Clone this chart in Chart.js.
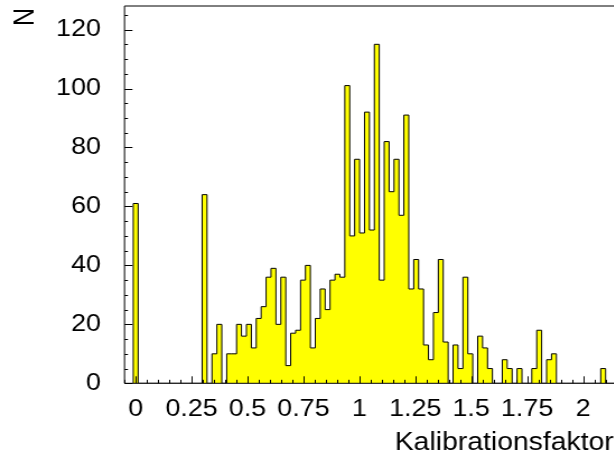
<!DOCTYPE html>
<html><head><meta charset="utf-8">
<script src="https://cdn.jsdelivr.net/npm/chart.js@4/dist/chart.umd.min.js"></script>
<style>
html,body{margin:0;padding:0;overflow:hidden;background:#fff;width:614px;height:455px}
#wrap{position:absolute;left:0;top:0;transform:scaleX(1.12);transform-origin:0 0;}
canvas{display:block}
</style></head><body>
<div id="wrap"><canvas id="c" width="620" height="455"></canvas></div>
<script>
// histogram bin contents (bin k centred at k * binWidth)
const counts = [61, 0,0,0,0,0,0,0,0,0,0,0,0,0, 64, 0,
  10,20,0,10,10,20,16,20,12,22,26,36,39,20,36,
  6,17,18,35,40,12,22,32,25,35,37,36,
  101,50,76,51,92,52,115,35,82,65,76,57,91,
  32,42,32,13,8,24,42,14,
  0,13,5,36,10,0,16,12,5,0,0,8,5,0,5,0,0,5,18,0,8,10,
  0,0,0,0,0,0,0,0,0, 5, 0,0,0,0];
const binWidth = 0.022;
const binLow = -0.011;
const xTickValues = [0, 0.25, 0.5, 0.75, 1, 1.25, 1.5, 1.75, 2];
const yTickValues = [0, 20, 40, 60, 80, 100, 120];
const xTitle = 'Kalibrationsfaktor';
const yTitle = 'N';

const FONT = '"Liberation Sans", Arial, Helvetica, sans-serif';

const pts = [{x: binLow, y: 0}];
counts.forEach((c, i) => pts.push({x: binLow + i * binWidth, y: c}));
pts.push({x: binLow + counts.length * binWidth, y: 0});

const rootStyle = {
  id: 'rootStyle',
  afterDraw(chart) {
    const ctx = chart.ctx;
    const {left, right, top, bottom} = chart.chartArea;
    const xs = chart.scales.x, ys = chart.scales.y;
    ctx.save();
    ctx.strokeStyle = '#000';
    ctx.lineWidth = 1;
    ctx.beginPath();
    ctx.moveTo(left, top); ctx.lineTo(right, top); ctx.lineTo(right, bottom);
    ctx.lineTo(left, bottom); ctx.closePath();
    ctx.stroke();
    ctx.beginPath();
    for (let i = -1; i <= 44; i++) {
      const v = i * 0.05;
      if (v < xs.min - 1e-9 || v > xs.max + 1e-9) continue;
      const px = Math.round(xs.getPixelForValue(v)) + 0.5;
      const len = (i % 5 === 0) ? 7 : 3.5;
      ctx.moveTo(px, bottom); ctx.lineTo(px, bottom - len);
    }
    for (let j = 0; j <= 25; j++) {
      const v = j * 5;
      if (v > ys.max) continue;
      const py = Math.round(ys.getPixelForValue(v)) + 0.5;
      const len = (j % 4 === 0) ? 7.1 : 3.1;
      ctx.moveTo(left, py); ctx.lineTo(left + len, py);
    }
    ctx.stroke();
    ctx.fillStyle = '#000';
    ctx.font = '25.3px ' + FONT;
    ctx.textAlign = 'left';
    ctx.textBaseline = 'alphabetic';
    ctx.fillText(xTitle, 352.5, 450);
    ctx.font = '25px ' + FONT;
    ctx.translate(29.5, 17);
    ctx.rotate(-Math.PI / 2);
    ctx.textAlign = 'center';
    ctx.fillText(yTitle, 0, 0);
    ctx.restore();
  }
};

new Chart(document.getElementById('c'), {
  type: 'line',
  data: {
    datasets: [{
      data: pts,
      stepped: 'before',
      borderColor: '#000',
      borderWidth: 1,
      backgroundColor: '#ffff00',
      fill: 'origin',
      pointRadius: 0,
      tension: 0
    }]
  },
  options: {
    responsive: false,
    animation: false,
    devicePixelRatio: 1,
    events: [],
    layout: {padding: {left: 0, top: 6, right: 59.5, bottom: 0}},
    plugins: {legend: {display: false}, tooltip: {enabled: false}},
    scales: {
      x: {
        type: 'linear', min: -0.05, max: 2.2,
        grid: {display: false}, border: {display: false},
        afterBuildTicks: s => { s.ticks = xTickValues.map(v => ({value: v})); },
        afterFit: s => { s.height = 71.7; s.paddingLeft = 0; s.paddingRight = 0; },
        ticks: {
          autoSkip: false, maxRotation: 0, padding: 4, color: '#000',
          font: {family: FONT, size: 24},
          callback: v => String(Math.round(v * 100) / 100)
        }
      },
      y: {
        type: 'linear', min: 0, max: 128,
        grid: {display: false}, border: {display: false},
        afterBuildTicks: s => { s.ticks = yTickValues.map(v => ({value: v})); },
        afterFit: s => { s.width = 111.16; s.paddingTop = 0; s.paddingBottom = 0; },
        ticks: {
          padding: 13, color: '#000',
          font: {family: FONT, size: 24},
          callback: v => String(v)
        }
      }
    }
  },
  plugins: [rootStyle]
});
</script>
</body></html>
